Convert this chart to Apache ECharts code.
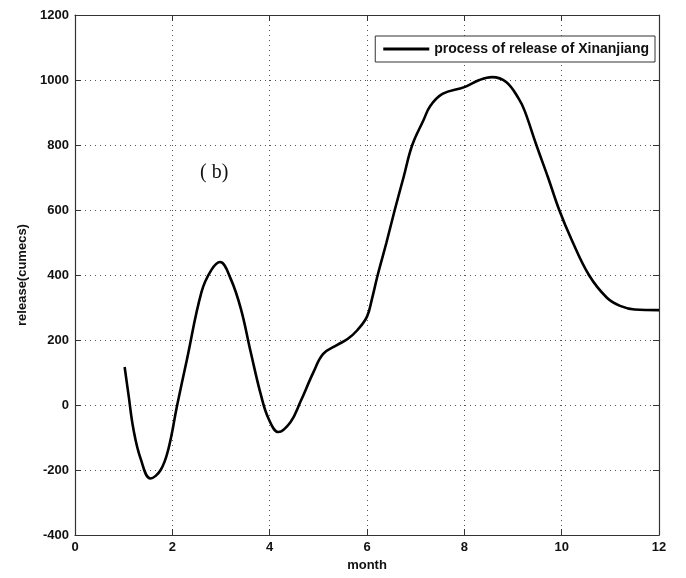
<!DOCTYPE html>
<html>
<head>
<meta charset="utf-8">
<script src="https://cdn.jsdelivr.net/npm/echarts@6/dist/echarts.min.js"></script>
<style>
  html, body { margin: 0; padding: 0; background: #fff; }
  #chart { width: 686px; height: 578px; }
</style>
</head>
<body>
<div id="chart"></div>
<script>
// values: month, release
const months = [1.02, 1.1, 1.2, 1.35, 1.55, 1.76, 1.92, 2.1, 2.3, 2.6, 2.8, 2.98, 3.2, 3.41, 3.61, 3.82, 3.98, 4.18, 4.43, 4.63, 4.9, 5.1, 5.39, 5.6, 5.8, 6.0, 6.1, 6.22, 6.4, 6.57, 6.75, 6.93, 7.16, 7.3, 7.55, 8.0, 8.31, 8.57, 8.86, 9.12, 9.24, 9.48, 9.72, 9.95, 10.2, 10.56, 10.93, 11.2, 11.5, 12]
const release = [117, 31, -74, -166, -226, -200, -135, 0, 140, 348, 415, 440, 388, 295, 163, 31, -43, -83, -52, 9, 101, 157, 185, 203, 230, 272, 325, 400, 500, 600, 700, 800, 876, 920, 957, 978, 1000, 1009, 994, 942, 905, 800, 700, 600, 510, 400, 330, 305, 294, 292]
const xTicks = { min: 0, max: 12, interval: 2 }
const yTicks = { min: -400, max: 1200, interval: 200 }

const font = '"Liberation Sans Narrow", "Liberation Sans", Arial, sans-serif'
const chart = echarts.init(document.getElementById('chart'))

const gridLine = { show: true, lineStyle: { color: '#555', type: [1, 4], width: 1 } }
const boxLine = { show: true, onZero: false, lineStyle: { color: '#333', width: 1.2 } }
const tick = { show: true, inside: true, length: 6, lineStyle: { color: '#333' } }
const label = { fontFamily: font, fontWeight: 'bold', fontSize: 13, color: '#111', margin: 6, formatter: v => String(v) }

chart.setOption({
  animation: false,
  backgroundColor: '#fff',
  grid: { left: 75, right: 27, top: 15, bottom: 43 },
  legend: {
    right: 31, top: 36,
    itemWidth: 46, itemHeight: 3,
    icon: 'rect',
    borderColor: '#333', borderWidth: 1,
    backgroundColor: '#fff',
    padding: [6, 6, 6, 8],
    itemGap: 4,
    textStyle: { fontFamily: font, fontWeight: 'bold', fontSize: 14, color: '#111' },
    data: ['process of release of Xinanjiang']
  },
  xAxis: [{
    type: 'value', ...xTicks,
    name: 'month', nameLocation: 'middle', nameGap: 23,
    nameTextStyle: { fontFamily: font, fontWeight: 'bold', fontSize: 13, color: '#111' },
    axisLine: boxLine, axisTick: tick, axisLabel: label,
    splitLine: gridLine
  }, {
    type: 'value', ...xTicks, position: 'top',
    axisLine: boxLine, axisTick: tick,
    axisLabel: { show: false }, splitLine: { show: false }
  }],
  yAxis: [{
    type: 'value', ...yTicks,
    name: 'release(cumecs)', nameLocation: 'middle', nameGap: 46,
    nameTextStyle: { fontFamily: font, fontWeight: 'bold', fontSize: 13, color: '#111' },
    axisLine: boxLine, axisTick: tick, axisLabel: label,
    splitLine: gridLine
  }, {
    type: 'value', ...yTicks, position: 'right',
    axisLine: boxLine, axisTick: tick,
    axisLabel: { show: false }, splitLine: { show: false }
  }],
  graphic: [{
    type: 'text', left: 200, top: 163,
    style: { text: '( b)', font: '20px "Liberation Serif", "Times New Roman", serif', fill: '#111' }
  }],
  series: [{
    name: 'process of release of Xinanjiang',
    type: 'line',
    smooth: 0.4,
    showSymbol: false,
    data: months.map((m, i) => [m, release[i]]),
    lineStyle: { color: '#000', width: 2.6 },
    itemStyle: { color: '#000' }
  }]
})
</script>
</body>
</html>
